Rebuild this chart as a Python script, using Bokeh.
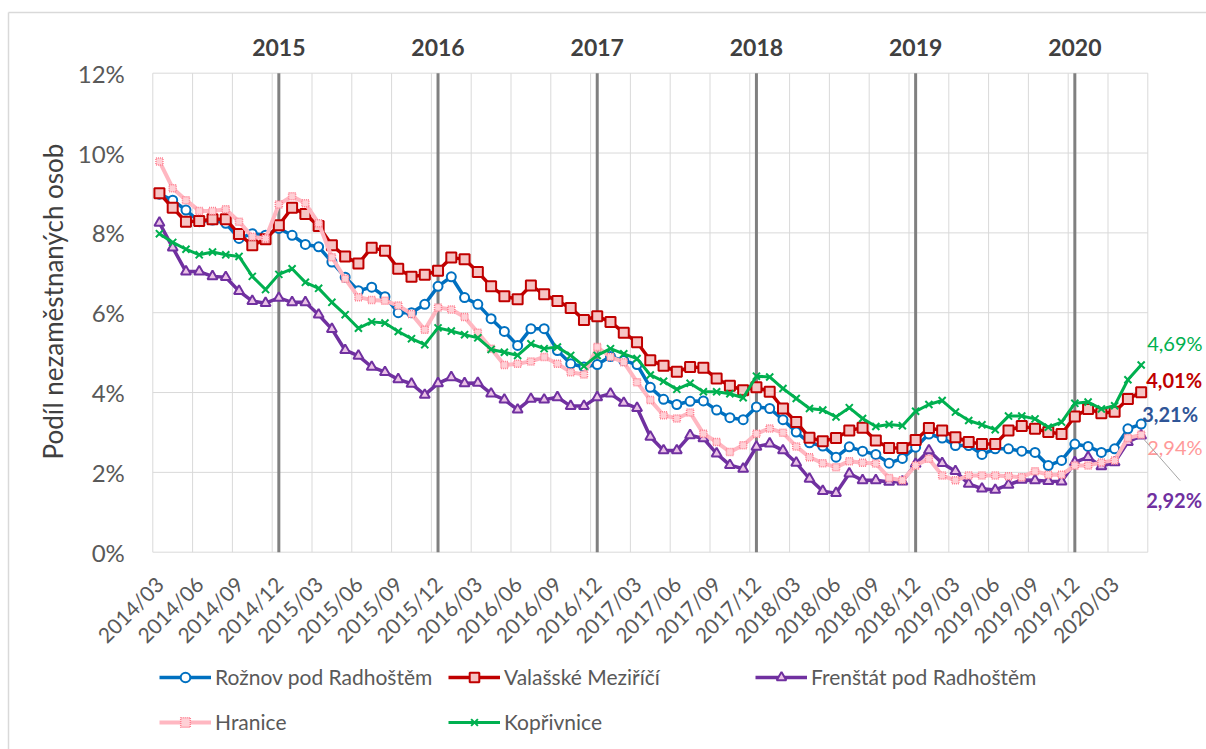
import math
from bokeh.plotting import figure
from bokeh.models import Range1d, FixedTicker, Label, Legend, LegendItem, Arrow, LinearAxis
from bokeh.embed import file_html
from bokeh.resources import INLINE

# ---------------- data ----------------
months = [f"{2014 + (m + 2) // 12}/{(m + 2) % 12 + 1:02d}" for m in range(75)]  # 2014/03 .. 2020/05

roznov = [8.97, 8.82, 8.57, 8.28, 8.32, 8.24, 7.86, 7.98, 7.94, 8.11, 7.94, 7.71, 7.65, 7.27, 6.89, 6.55, 6.64, 6.40, 6.00,
          6.00, 6.21, 6.66, 6.90, 6.38, 6.21, 5.85, 5.53, 5.18, 5.60, 5.60, 5.05, 4.72, 4.64, 4.70, 4.90, 4.80, 4.70,
          4.13, 3.83, 3.70, 3.78, 3.79, 3.56, 3.37, 3.32, 3.64, 3.60, 3.32, 3.01, 2.74, 2.66, 2.38, 2.64, 2.53, 2.45, 2.23,
          2.35, 2.63, 2.96, 2.86, 2.67, 2.67, 2.45, 2.59, 2.59, 2.53, 2.50, 2.17, 2.30, 2.71, 2.65, 2.50, 2.59, 3.09, 3.21]

valasske = [8.99, 8.63, 8.28, 8.30, 8.34, 8.34, 7.97, 7.69, 7.84, 8.19, 8.63, 8.47, 8.17, 7.69, 7.41, 7.23, 7.63, 7.55, 7.10,
            6.90, 6.95, 7.05, 7.38, 7.34, 7.02, 6.66, 6.41, 6.34, 6.68, 6.46, 6.29, 6.12, 5.82, 5.91, 5.77, 5.50, 5.26,
            4.81, 4.67, 4.52, 4.64, 4.62, 4.35, 4.17, 4.06, 4.13, 4.02, 3.60, 3.26, 2.87, 2.78, 2.86, 3.05, 3.12, 2.80, 2.61,
            2.61, 2.81, 3.11, 3.05, 2.88, 2.76, 2.71, 2.71, 3.05, 3.16, 3.09, 3.01, 2.96, 3.40, 3.59, 3.48, 3.52, 3.84, 4.01]

frenstat = [8.25, 7.63, 7.03, 7.03, 6.91, 6.89, 6.54, 6.29, 6.24, 6.37, 6.26, 6.26, 5.95, 5.59, 5.06, 4.92, 4.64, 4.51, 4.33,
            4.22, 3.94, 4.23, 4.38, 4.23, 4.24, 3.97, 3.82, 3.57, 3.84, 3.82, 3.88, 3.66, 3.66, 3.88, 3.97, 3.74, 3.61,
            2.89, 2.55, 2.55, 2.93, 2.85, 2.47, 2.18, 2.09, 2.64, 2.72, 2.55, 2.24, 1.84, 1.53, 1.48, 1.97, 1.80, 1.80, 1.76,
            1.77, 2.21, 2.55, 2.23, 2.03, 1.71, 1.59, 1.56, 1.69, 1.81, 1.80, 1.78, 1.77, 2.25, 2.38, 2.15, 2.25, 2.76, 2.92]

hranice = [9.79, 9.12, 8.82, 8.55, 8.55, 8.59, 8.28, 7.90, 7.86, 8.71, 8.92, 8.74, 8.24, 7.39, 6.85, 6.39, 6.32, 6.30, 6.18,
           5.97, 5.57, 6.13, 6.08, 5.89, 5.50, 5.10, 4.69, 4.72, 4.78, 4.89, 4.72, 4.51, 4.45, 5.14, 4.89, 4.76, 4.26,
           3.81, 3.43, 3.35, 3.50, 2.97, 2.76, 2.51, 2.68, 2.97, 3.10, 2.99, 2.65, 2.38, 2.23, 2.13, 2.28, 2.24, 2.22, 1.86,
           1.80, 2.17, 2.34, 1.92, 1.80, 1.92, 1.92, 1.92, 1.90, 1.88, 2.03, 1.94, 1.94, 2.17, 2.17, 2.25, 2.30, 2.86, 2.94]

koprivnice = [7.98, 7.76, 7.59, 7.45, 7.52, 7.45, 7.41, 6.91, 6.58, 6.96, 7.10, 6.76, 6.61, 6.26, 5.95, 5.61, 5.77, 5.74, 5.53,
              5.35, 5.20, 5.62, 5.54, 5.45, 5.37, 5.08, 5.01, 4.93, 5.22, 5.10, 5.14, 4.93, 4.66, 4.93, 5.10, 4.97, 4.85,
              4.44, 4.28, 4.08, 4.23, 4.02, 4.02, 3.97, 3.87, 4.41, 4.39, 4.10, 3.85, 3.60, 3.56, 3.39, 3.62, 3.35, 3.15, 3.20,
              3.17, 3.53, 3.70, 3.80, 3.51, 3.30, 3.19, 3.07, 3.41, 3.41, 3.34, 3.13, 3.26, 3.73, 3.76, 3.59, 3.67, 4.32, 4.69]

year_labels = ["2015", "2016", "2017", "2018", "2019", "2020"]
year_marker_months = ["2014/12", "2015/12", "2016/12", "2017/12", "2018/12", "2019/12"]
y_ticks = [0, 2, 4, 6, 8, 10, 12]

# ---------------- geometry (pixels of the 1206x749 canvas) ----------------
FONT = "Lato"
GRID = "#D9D9D9"
TXT = "#595959"

n = len(months)
xs = list(range(n))

W, H = 1206, 749
PLOT_LEFT_PX, PLOT_ZERO_PX = 152.3, 551.7      # left edge of the data area, y of 0 %
PX_PER_CAT = 995 / n
PX_PER_PCT = 479 / 12


def dx(px):   # canvas x pixel -> data x
    return (px - PLOT_LEFT_PX) / PX_PER_CAT - 0.5


def dy(py):   # canvas y pixel -> data y
    return (PLOT_ZERO_PX - py) / PX_PER_PCT


p = figure(width=W, height=H, x_range=Range1d(dx(0), dx(W)), y_range=Range1d(dy(H), dy(0)),
           output_backend="svg", toolbar_location=None,
           min_border_left=0, min_border_right=0, min_border_top=0, min_border_bottom=0)
p.outline_line_color = None
p.background_fill_color = "white"
p.border_fill_color = "white"
p.xgrid.grid_line_color = None
p.ygrid.grid_line_color = None

# y axis, fixed at the left edge of the data area
ya = p.yaxis[0]
ya.fixed_location = -0.5
ya.ticker = FixedTicker(ticks=y_ticks)
ya.major_label_overrides = {t: f"{t}%" for t in y_ticks}
ya.major_label_text_font = FONT
ya.major_label_text_font_size = "24px"
ya.major_label_text_color = TXT
ya.major_tick_line_color = None
ya.major_tick_out = 0
ya.major_tick_in = 0
ya.minor_tick_line_color = None
ya.axis_line_color = None
ya.major_label_standoff = 28

# x axis fixed at 0 %, labels every 3 months, rotated
xa = p.xaxis[0]
xa.fixed_location = 0
tick_idx = list(range(0, n, 3))
xa.ticker = FixedTicker(ticks=tick_idx)
xa.major_label_overrides = {i: months[i] for i in tick_idx}
xa.major_label_orientation = math.pi / 4
xa.major_label_text_font = FONT
xa.major_label_text_font_size = "21px"
xa.major_label_text_color = TXT
xa.major_tick_line_color = None
xa.major_tick_out = 0
xa.major_tick_in = 0
xa.minor_tick_line_color = None
xa.axis_line_color = None
xa.major_label_standoff = 28

# year labels on a top axis fixed at 12 %
year_idx = [months.index(m) for m in year_marker_months]
top_axis = LinearAxis(ticker=FixedTicker(ticks=year_idx), fixed_location=12,
                      major_label_overrides={i: lab for i, lab in zip(year_idx, year_labels)},
                      major_label_text_font=FONT, major_label_text_font_size="23px",
                      major_label_text_font_style="bold", major_label_text_color="#404040",
                      axis_line_color=None, major_tick_line_color=None, minor_tick_line_color=None,
                      major_tick_out=0, major_tick_in=0, major_label_standoff=17)
p.add_layout(top_axis, "above")

# y axis title
p.add_layout(Label(x=dx(52), y=dy(301), text="Podíl nezaměstnaných osob", angle=math.pi / 2,
                   text_align="center", text_baseline="middle", text_font=FONT,
                   text_font_size="26px", text_color="#404040"))

# chart-area border (top and left edges visible in the reference)
p.segment(x0=[dx(8), dx(8)], y0=[dy(12), dy(12)], x1=[dx(W + 5), dx(8)], y1=[dy(12), dy(H + 5)],
          line_color="#D9D9D9", line_width=1.5)

# grid: vertical lines between categories every 3 months, horizontal lines at the y ticks
vgrid = [i - 0.5 for i in range(0, n + 1, 3)]
p.segment(x0=vgrid, x1=vgrid, y0=[0] * len(vgrid), y1=[12] * len(vgrid), line_color=GRID, line_width=1)
p.segment(x0=[-0.5] * len(y_ticks), x1=[n - 0.5] * len(y_ticks), y0=y_ticks, y1=y_ticks,
          line_color=GRID, line_width=1)

# year separators
p.segment(x0=year_idx, x1=year_idx, y0=[0] * len(year_idx), y1=[12] * len(year_idx),
          line_color="#808080", line_width=3)

series = [
    ("Rožnov pod Radhoštěm", roznov, dict(color="#0070C0", width=3.5, marker="circle", size=9,
                                           fill="white", mline="#0070C0", mw=2, dash="solid")),
    ("Valašské Meziříčí", valasske, dict(color="#C00000", width=3.5, marker="square", size=10,
                                         fill="#F6C4C4", mline="#C00000", mw=2, dash="solid")),
    ("Frenštát pod Radhoštěm", frenstat, dict(color="#7030A0", width=3.5, marker="triangle", size=10,
                                              fill="#EBC3E6", mline="#7030A0", mw=2, dash="solid")),
    ("Hranice", hranice, dict(color="#FFB7C1", width=4, marker="square", size=7,
                              fill="#FFD0D6", mline="#FF7F90", mw=1.5, dash="1 1")),
    ("Kopřivnice", koprivnice, dict(color="#00B050", width=3, marker="x", size=10,
                                    fill=None, mline="#00B050", mw=2, dash="solid")),
]

items = []
for name, vals, st in series:
    lr = p.line(xs, vals, line_color=st["color"], line_width=st["width"], line_join="round")
    if st["fill"] is None:
        sr = p.scatter(xs, vals, marker=st["marker"], size=st["size"], line_color=st["mline"],
                       line_width=st["mw"])
    else:
        sr = p.scatter(xs, vals, marker=st["marker"], size=st["size"], fill_color=st["fill"],
                       line_color=st["mline"], line_width=st["mw"], line_dash=st["dash"])
    items.append(LegendItem(label=name, renderers=[lr, sr]))

# legend: Excel-like 3 + 2 layout under the chart (location = bottom-left corner, px from canvas bottom-left)
legend_pos = [(159, 60), (448, 60), (755, 60), (159, 15), (448, 15)]
for item, loc in zip(items, legend_pos):
    p.add_layout(Legend(items=[item], location=loc,
                        glyph_width=52, glyph_height=24, label_height=24, label_standoff=4,
                        label_text_font=FONT, label_text_font_size="21px", label_text_color=TXT,
                        padding=0, margin=0, spacing=0, border_line_color=None,
                        background_fill_alpha=0), "center")

# end-of-series value labels
last = n - 1
end_labels = [
    (koprivnice, "#00B050", "normal", 6, 21.6),
    (valasske, "#C00000", "bold", 5, 11.7),
    (roznov, "#2F5597", "bold", 1, 9.6),
    (hranice, "#FF9999", "normal", 6, -12.6),
    (frenstat, "#7030A0", "bold", 5, -64.8),
]
for vals, col, style, ox, oy in end_labels:
    p.add_layout(Label(x=last, y=vals[last], x_offset=ox, y_offset=oy,
                       text=f"{vals[last]:.2f}%".replace(".", ","),
                       text_align="left", text_baseline="middle", text_font=FONT,
                       text_font_size="20px", text_font_style=style, text_color=col))

# leader line for the purple label
p.add_layout(Arrow(end=None, x_start=last + 3 / PX_PER_CAT, y_start=frenstat[last] - 4 / PX_PER_PCT,
                   x_end=last + 39 / PX_PER_CAT, y_end=frenstat[last] - 45 / PX_PER_PCT,
                   line_color="#A6A6A6", line_width=1))

open("out.html", "w").write(file_html(p, INLINE))
